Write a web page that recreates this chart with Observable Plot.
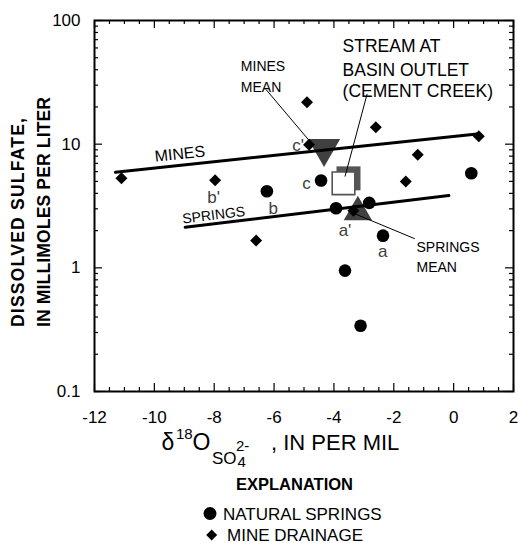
<!DOCTYPE html>
<html>
<head>
<meta charset="utf-8">
<script src="https://cdn.jsdelivr.net/npm/d3@7"></script>
<script src="https://cdn.jsdelivr.net/npm/@observablehq/plot@0.6"></script>
<style>
  body { margin: 0; background: #fff; }
  svg { display: block; }
</style>
</head>
<body>
<div id="chart"></div>
<script>
// ---------------- data ----------------
const springsX = [-6.24, -4.43, -3.93, -3.63, -3.11, -2.82, -2.36, 0.59];
const springsY = [4.16, 5.08, 3.03, 0.95, 0.34, 3.35, 1.82, 5.82];

const minesX = [-11.1, -7.97, -6.6, -4.9, -4.83, -3.35, -2.6, -1.6, -1.2, 0.84];
const minesY = [5.3, 5.1, 1.66, 21.8, 9.9, 2.9, 13.7, 5.0, 8.2, 11.6];

const meanNames = ["MINES MEAN", "SPRINGS MEAN"];
const meanX = [-4.33, -3.2];
const meanY = [8.5, 3.05];

const streamX = [-3.68];
const streamY = [4.82];

const trendNames = ["MINES", "MINES", "SPRINGS", "SPRINGS"];
const trendX = [-11.3, 0.78, -8.97, -0.16];
const trendY = [5.93, 12.1, 2.13, 3.84];

const xTicks = [-12, -10, -8, -6, -4, -2, 0, 2];
const xTickLabels = ["-12", "-10", "-8", "-6", "-4", "-2", "0", "2"];
const yTicks = [0.1, 1, 10, 100];
const yTickLabels = ["0.1", "1", "10", "100"];

// point letter labels
const letterText = ["a", "b", "c", "a'", "b'", "c'"];
const letterX = [-2.37, -6.03, -4.92, -3.63, -8.02, -5.2];
const letterY = [1.23, 2.75, 4.37, 1.82, 3.37, 8.88];

// letter-spaced annotation lines
const spacedText = ["MINES", "MEAN", "SPRINGS", "MEAN"];
const spacedX = [-7.11, -7.11, -1.24, -1.24];
const spacedY = [38.9, 26.2, 1.335, 0.92];

// stream annotation lines
const streamText = ["STREAM AT", "BASIN OUTLET", "(CEMENT CREEK)"];
const streamTextX = [-3.71, -3.71, -3.71];
const streamTextY = [55.4, 35.9, 24.0];

// leader lines
const leaderX1 = [-6.27, -2.89, -3.4];
const leaderY1 = [27.7, 25.5, 2.8];
const leaderX2 = [-4.77, -3.63, -1.3];
const leaderY2 = [10.3, 5.47, 1.72];

// trend line labels
const lineLabelText = ["MINES", "SPRINGS"];
const lineLabelX = [-9.13, -8.0];
const lineLabelY = [7.57, 2.45];
const lineLabelRotate = [-6, -7];

// ---------------- layout ----------------
const F = "'Liberation Sans', Arial, Helvetica, sans-serif";
const W = 518, H = 543, mL = 94, mR = 5, mT = 20, mB = 152;
const fw = W - mL - mR, fh = H - mT - mB;

const xMinor = d3.range(-11.5, 2, 0.5).filter(v => v % 2 !== 0);
const yMinor = [0.1, 1, 10].flatMap(d => [2, 3, 4, 5, 6, 7, 8, 9].map(k => k * d));

// tables
const springs = springsX.map((x, i) => ({x, y: springsY[i]}));
const mines = minesX.map((x, i) => ({x, y: minesY[i]}));
const means = meanNames.map((name, i) => ({name, x: meanX[i], y: meanY[i]}));
const stream = streamX.map((x, i) => ({x, y: streamY[i]}));
const trends = trendNames.map((name, i) => ({name, x: trendX[i], y: trendY[i]}));
const letters = letterText.map((t, i) => ({t, x: letterX[i], y: letterY[i]}));
const spaced = spacedText.map((t, i) => ({t, x: spacedX[i], y: spacedY[i]}));
const streamLbl = streamText.map((t, i) => ({t, x: streamTextX[i], y: streamTextY[i]}));
const leaders = leaderX1.map((x1, i) => ({x1, y1: leaderY1[i], x2: leaderX2[i], y2: leaderY2[i]}));
const lineLbls = lineLabelText.map((t, i) => ({t, x: lineLabelX[i], y: lineLabelY[i], r: lineLabelRotate[i]}));

// custom symbols
const rOf = size => Math.sqrt(size / Math.PI);
const diamondSym = {draw(ctx, size) { const r = rOf(size);
  ctx.moveTo(0, -r); ctx.lineTo(r, 0); ctx.lineTo(0, r); ctx.lineTo(-r, 0); ctx.closePath(); }};
const triDownSym = {draw(ctx, size) { const r = rOf(size), w = r * 1.15;
  ctx.moveTo(-w, -r); ctx.lineTo(w, -r); ctx.lineTo(0, r); ctx.closePath(); }};
const triUpSym = {draw(ctx, size) { const r = rOf(size), w = r * 1.15;
  ctx.moveTo(0, -r); ctx.lineTo(w, r); ctx.lineTo(-w, r); ctx.closePath(); }};
const squareSym = {draw(ctx, size) { const r = rOf(size);
  ctx.moveTo(-r, -r); ctx.lineTo(r, -r); ctx.lineTo(r, r); ctx.lineTo(-r, r); ctx.closePath(); }};

const svg = Plot.plot({
  width: W, height: H,
  marginLeft: mL, marginRight: mR, marginTop: mT, marginBottom: mB,
  style: {fontFamily: F, fontSize: "17px", background: "white", color: "black"},
  x: {domain: [-12, 2], ticks: xTicks, tickSize: 0, tickPadding: 19, label: null,
      tickFormat: d => xTickLabels[xTicks.indexOf(d)]},
  y: {type: "log", domain: [0.1, 100], ticks: yTicks, tickSize: 0, tickPadding: 14,
      tickFormat: d => yTickLabels[yTicks.findIndex(t => Math.abs(t - d) < 1e-9)], label: null},
  marks: [
    // inside ticks
    Plot.tickX(xTicks, {x: d => d, insetTop: fh - 8, stroke: "black", strokeWidth: 1.2}),
    Plot.tickX(xTicks, {x: d => d, insetBottom: fh - 8, stroke: "black", strokeWidth: 1.2}),
    Plot.tickX(xMinor, {x: d => d, insetTop: fh - 4, stroke: "black", strokeWidth: 1.2}),
    Plot.tickX(xMinor, {x: d => d, insetBottom: fh - 4, stroke: "black", strokeWidth: 1.2}),
    Plot.tickY(yTicks, {y: d => d, insetRight: fw - 8, stroke: "black", strokeWidth: 1.2}),
    Plot.tickY(yTicks, {y: d => d, insetLeft: fw - 8, stroke: "black", strokeWidth: 1.2}),
    Plot.tickY(yMinor, {y: d => d, insetRight: fw - 4, stroke: "black", strokeWidth: 1.2}),
    Plot.tickY(yMinor, {y: d => d, insetLeft: fw - 4, stroke: "black", strokeWidth: 1.2}),
    Plot.frame({stroke: "black", strokeWidth: 2}),

    // stream at basin outlet (3D square)
    Plot.dot(stream, {x: "x", y: "y", symbol: squareSym, r: 12, fill: "#555", stroke: "none", dx: 5, dy: -5}),
    Plot.dot(stream, {x: "x", y: "y", symbol: squareSym, r: 11.3, fill: "white", stroke: "#555", strokeWidth: 1.6}),

    // means
    Plot.dot(means.filter(d => d.name === "MINES MEAN"), {x: "x", y: "y", symbol: triDownSym, r: 14, fill: "#404040", stroke: "none"}),
    Plot.dot(means.filter(d => d.name === "SPRINGS MEAN"), {x: "x", y: "y", symbol: triUpSym, r: 12.3, fill: "#404040", stroke: "none"}),

    // trend lines
    Plot.line(trends, {x: "x", y: "y", z: "name", stroke: "black", strokeWidth: 3}),

    // leader lines
    Plot.link(leaders, {x1: "x1", y1: "y1", x2: "x2", y2: "y2", stroke: "black", strokeWidth: 1}),

    // data points
    Plot.dot(springs, {x: "x", y: "y", r: 6.3, fill: "black", stroke: "none"}),
    Plot.dot(mines, {x: "x", y: "y", symbol: diamondSym, r: 6, fill: "black", stroke: "none"}),

    // letter labels
    Plot.text(letters, {x: "x", y: "y", text: "t", fontSize: 17, fill: "#404040", textAnchor: "middle", lineAnchor: "bottom"}),

    // trend line labels
    Plot.text(lineLbls.filter(d => d.t === "MINES"), {x: "x", y: "y", text: "t", rotate: "r", fontSize: 16, fill: "black", textAnchor: "middle", lineAnchor: "bottom"}),
    Plot.text(lineLbls.filter(d => d.t === "SPRINGS"), {x: "x", y: "y", text: "t", rotate: "r", fontSize: 14, fill: "black", textAnchor: "middle", lineAnchor: "bottom", ariaLabel: "spaced-text"}),

    // mean annotations
    Plot.text(spaced, {x: "x", y: "y", text: "t", fontSize: 14, fill: "black", textAnchor: "start", lineAnchor: "bottom", ariaLabel: "spaced-text"}),

    // stream annotation
    Plot.text(streamLbl, {x: "x", y: "y", text: "t", fontSize: 17.5, fill: "black", textAnchor: "start", lineAnchor: "bottom"})
  ]
});

document.getElementById("chart").appendChild(svg);

const s = d3.select(svg);
s.selectAll('g[aria-label="spaced-text"] text').attr("letter-spacing", "2px");

const g = s.append("g").attr("text-anchor", "start").attr("font-family", F).attr("fill", "black");

// y-axis title (two rotated lines)
const yTitle = [
  {t: "DISSOLVED SULFATE,", bx: 24, len: 209},
  {t: "IN MILLIMOLES PER LITER", bx: 50, len: 230}
];
yTitle.forEach(d => {
  g.append("text")
    .attr("transform", `translate(${d.bx},327) rotate(-90)`)
    .attr("text-anchor", "start")
    .attr("font-weight", "bold").attr("font-size", 17.5)
    .attr("textLength", d.len).attr("lengthAdjust", "spacing")
    .text(d.t);
});

// x-axis title with super/subscripts
const xt = [
  {t: "\u03B4", x: 161.5, y: 450, fs: 23},
  {t: "18", x: 176, y: 439, fs: 15},
  {t: "O", x: 192.5, y: 450, fs: 23},
  {t: "SO", x: 212, y: 464, fs: 17},
  {t: "2-", x: 236, y: 451, fs: 15},
  {t: "4", x: 237.5, y: 467, fs: 15},
  {t: ", IN PER MIL", x: 271, y: 450, fs: 22}
];
xt.forEach(d => {
  g.append("text").attr("x", d.x).attr("y", d.y).attr("text-anchor", "start")
    .attr("font-size", d.fs).text(d.t);
});

// explanation / legend
g.append("text").attr("x", 294.5).attr("y", 490).attr("text-anchor", "middle")
  .attr("font-weight", "bold").attr("font-size", 16.5).text("EXPLANATION");
g.append("circle").attr("cx", 210).attr("cy", 513.5).attr("r", 6.5).attr("fill", "black");
g.append("text").attr("x", 223).attr("y", 520).attr("text-anchor", "start").attr("font-size", 17)
  .text("NATURAL SPRINGS");
g.append("path").attr("d", "M211.7,529.5L217.2,535L211.7,540.5L206.2,535Z").attr("fill", "black");
g.append("text").attr("x", 227).attr("y", 540.5).attr("text-anchor", "start").attr("font-size", 17)
  .text("MINE DRAINAGE");
</script>
</body>
</html>
